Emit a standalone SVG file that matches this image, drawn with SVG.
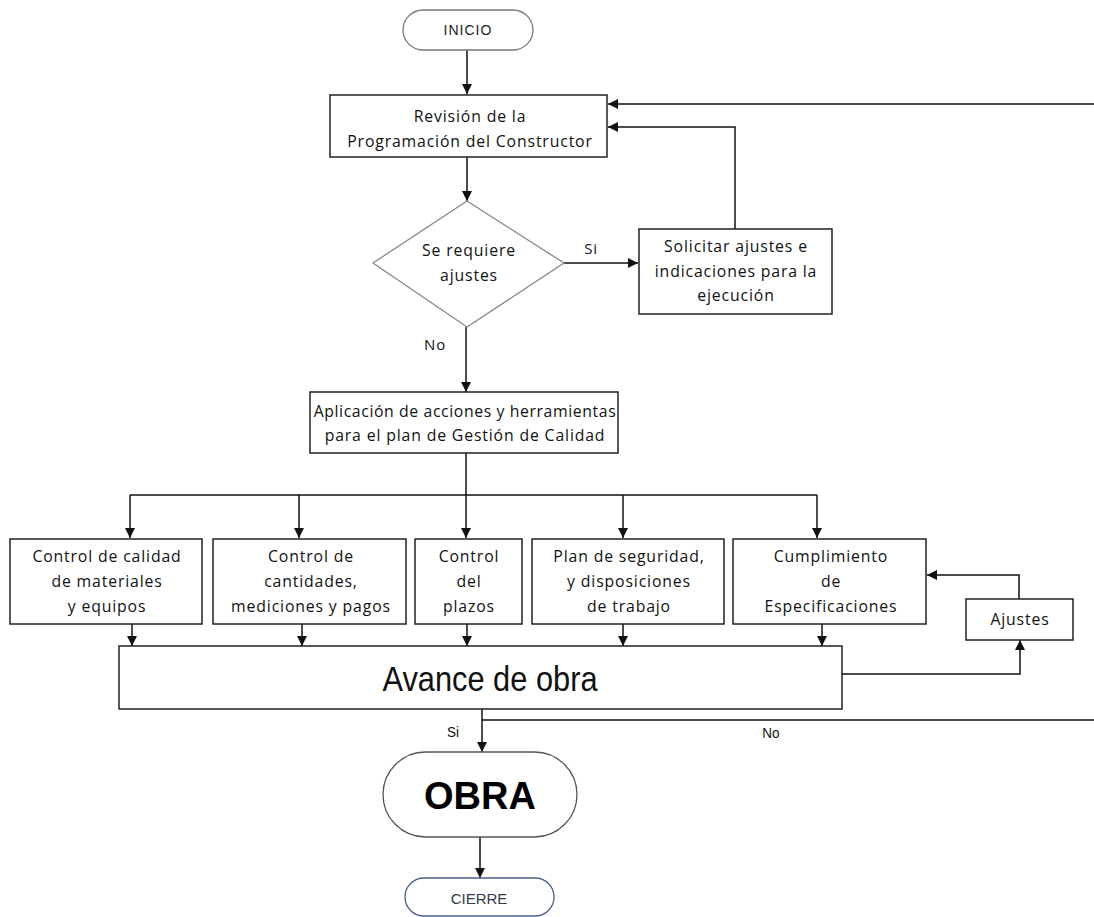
<svg xmlns="http://www.w3.org/2000/svg" width="1094" height="917" viewBox="0 0 1094 917">
<defs>
<marker id="ah" viewBox="0 0 10 10" refX="10" refY="5" markerWidth="10" markerHeight="10" markerUnits="userSpaceOnUse" orient="auto">
<path d="M0,0 L10,5 L0,10 z" fill="#111"/>
</marker>
</defs>
<style>
.box{fill:#fff;stroke:#222;stroke-width:1.5}
.t{font-family:"Open Sans","Noto Sans",sans-serif;font-size:15.8px;letter-spacing:0.85px;fill:#111;text-anchor:middle}
.c{fill:none;stroke:#111;stroke-width:1.5}
.ca{fill:none;stroke:#111;stroke-width:1.5;marker-end:url(#ah)}
.lbl{font-family:"Liberation Sans",sans-serif;font-size:15px;fill:#111;text-anchor:middle}
</style>
<rect width="1094" height="917" fill="#fff"/>
<g id="connectors">
<line class="ca" x1="467" y1="50" x2="467" y2="94"/>
<line class="ca" x1="467" y1="157" x2="467" y2="201"/>
<line class="ca" x1="564" y1="263" x2="638" y2="263"/>
<polyline class="ca" points="735,229 735,127 608,127"/>
<line class="ca" x1="1094" y1="104" x2="608" y2="104"/>
<line class="ca" x1="466" y1="327" x2="466" y2="392"/>
<line class="c" x1="466" y1="453" x2="466" y2="495"/>
<line class="c" x1="130" y1="495" x2="817" y2="495"/>
<line class="ca" x1="130" y1="495" x2="130" y2="538"/>
<line class="ca" x1="299" y1="495" x2="299" y2="538"/>
<line class="ca" x1="466" y1="495" x2="466" y2="538"/>
<line class="ca" x1="623" y1="495" x2="623" y2="538"/>
<line class="ca" x1="817" y1="495" x2="817" y2="538"/>
<line class="ca" x1="132" y1="624" x2="132" y2="646"/>
<line class="ca" x1="302" y1="624" x2="302" y2="646"/>
<line class="ca" x1="467" y1="624" x2="467" y2="646"/>
<line class="ca" x1="623" y1="624" x2="623" y2="646"/>
<line class="ca" x1="822" y1="624" x2="822" y2="646"/>
<polyline class="ca" points="842,674 1020,674 1020,640"/>
<polyline class="ca" points="1019,599 1019,575 927,575"/>
<line class="c" x1="482" y1="720" x2="1094" y2="720"/>
<line class="ca" x1="482" y1="709" x2="482" y2="752"/>
<line class="ca" x1="480" y1="837" x2="480" y2="878"/>
<text class="t" x="591" y="254" style="font-size:15px">Si</text>
<text class="t" x="435" y="350" style="font-size:15px">No</text>
<text class="lbl" x="453" y="737" transform="translate(453,0) scale(0.9,1) translate(-453,0)">Si</text>
<text class="lbl" x="771" y="738" transform="translate(771,0) scale(0.9,1) translate(-771,0)">No</text>
</g>
<g id="inicio">
<rect x="403" y="10" width="130" height="40" rx="20" ry="20" fill="#fff" stroke="#777" stroke-width="1.3"/>
<text x="468" y="35" style="font-family:'Liberation Sans',sans-serif;font-size:14px;letter-spacing:1px;fill:#222;text-anchor:middle">INICIO</text>
</g>
<g id="revision">
<rect class="box" x="330" y="95" width="277" height="62"/>
<text class="t" x="470" y="122">Revisión de la</text>
<text class="t" x="470" y="147">Programación del Constructor</text>
</g>
<g id="decision">
<polygon points="467,201 564,263 467,327 373,263" fill="#fff" stroke="#888" stroke-width="1.3"/>
<text class="t" x="469" y="256">Se requiere</text>
<text class="t" x="469" y="281">ajustes</text>
</g>
<g id="solicitar">
<rect class="box" x="639" y="229" width="193" height="85"/>
<text class="t" x="736" y="252">Solicitar ajustes e</text>
<text class="t" x="736" y="277">indicaciones para la</text>
<text class="t" x="736" y="301">ejecución</text>
</g>
<g id="aplicacion">
<rect class="box" x="310" y="392" width="308" height="61"/>
<text class="t" x="465" y="417" style="letter-spacing:0.6px">Aplicación de acciones y herramientas</text>
<text class="t" x="465" y="441">para el plan de Gestión de Calidad</text>
</g>
<g id="calidad">
<rect class="box" x="10" y="539" width="192" height="85"/>
<text class="t" x="107" y="562">Control de calidad</text>
<text class="t" x="107" y="587">de materiales</text>
<text class="t" x="107" y="612">y equipos</text>
</g>
<g id="cantidades">
<rect class="box" x="213" y="539" width="193" height="85"/>
<text class="t" x="311" y="562">Control de</text>
<text class="t" x="311" y="587">cantidades,</text>
<text class="t" x="311" y="612">mediciones y pagos</text>
</g>
<g id="plazos">
<rect class="box" x="415" y="539" width="107" height="85"/>
<text class="t" x="469" y="562">Control</text>
<text class="t" x="469" y="587">del</text>
<text class="t" x="469" y="612">plazos</text>
</g>
<g id="seguridad">
<rect class="box" x="532" y="539" width="192" height="85"/>
<text class="t" x="629" y="562">Plan de seguridad,</text>
<text class="t" x="629" y="587">y disposiciones</text>
<text class="t" x="629" y="612">de trabajo</text>
</g>
<g id="especificaciones">
<rect class="box" x="733" y="539" width="193" height="85"/>
<text class="t" x="831" y="562">Cumplimiento</text>
<text class="t" x="831" y="587">de</text>
<text class="t" x="831" y="612">Especificaciones</text>
</g>
<g id="ajustes">
<rect class="box" x="966" y="599" width="107" height="41"/>
<text class="t" x="1020" y="625">Ajustes</text>
</g>
<g id="avance">
<rect class="box" x="119" y="646" width="723" height="63"/>
<text x="490" y="691" transform="translate(490,0) scale(0.88,1) translate(-490,0)" style="font-family:'Liberation Sans',sans-serif;font-size:35px;fill:#111;text-anchor:middle">Avance de obra</text>
</g>
<g id="obra">
<rect x="383" y="752" width="194" height="85" rx="42.5" ry="42.5" fill="#fff" stroke="#555" stroke-width="1.3"/>
<text x="480" y="809" style="font-family:'Liberation Sans',sans-serif;font-weight:bold;font-size:38px;fill:#000;text-anchor:middle">OBRA</text>
</g>
<g id="cierre">
<rect x="405" y="878" width="149" height="38" rx="19" ry="19" fill="#fff" stroke="#4a6090" stroke-width="1.3"/>
<text x="479" y="904" style="font-family:'Liberation Sans',sans-serif;font-size:15px;fill:#333a4a;text-anchor:middle">CIERRE</text>
</g>
</svg>
